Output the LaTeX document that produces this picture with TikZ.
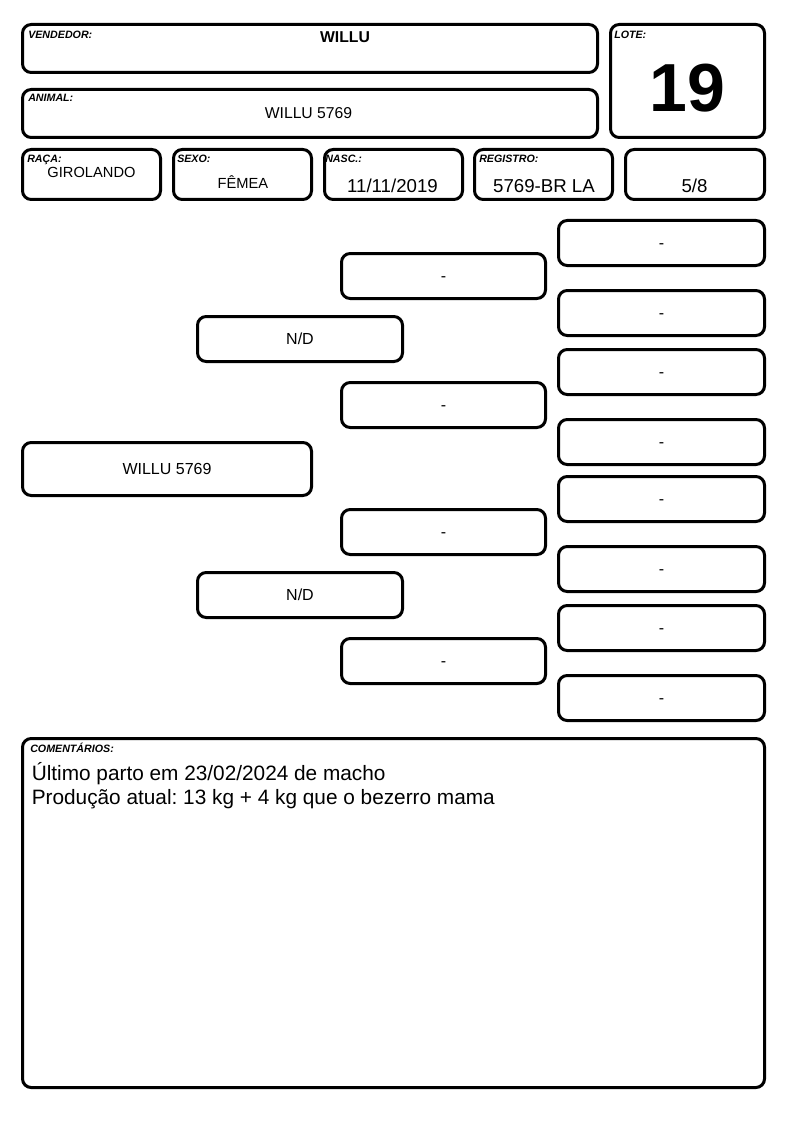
\documentclass[tikz,border=0pt]{standalone}
\usepackage{fontspec}
\setmainfont{Liberation Sans}
\frenchspacing
\newcommand\bx[7]{\node[box, minimum width={0.75pt*(#4-#2-3)}, minimum height={0.75pt*(#5-#3-3)}, font=#6] (#1) at ({(#2+#4)/2},{(#3+#5)/2}) {#7};}
\begin{document}
\begin{tikzpicture}[x=0.75pt,y=-0.75pt,
  box/.style={draw, line width=2.25pt, rounded corners=6.5pt, inner sep=0pt, text height=8.2pt, text depth=0pt},
  lbl/.style={font=\fontsize{8}{9}\selectfont\bfseries\itshape, anchor=base west, inner sep=0pt},
  val/.style={anchor=base, inner sep=0pt}]
\fill[white] (0,0) rectangle (794,1123);
\useasboundingbox (0,0) rectangle (794,1123);
% header
\bx{vend}{21}{23}{599}{74}{}{}
\bx{anim}{21}{88}{599}{139}{}{}
\bx{lote}{609}{23}{766}{139}{}{}
\node[lbl] (lvend) at (28,38.5) {VENDEDOR:};
\node[lbl] (lanim) at (28,102) {ANIMAL:};
\node[lbl] (llote) at (614,38.5) {LOTE:};
\node[val, font=\fontsize{11.8}{13}\selectfont\bfseries] (tvend) at (345,43) {WILLU};
\node[val, font=\fontsize{11.8}{13}\selectfont] (tanim) at (308.5,119) {WILLU 5769};
\node[val, font=\fontsize{51}{55}\selectfont\bfseries] (tlote) at (687.5,112) {19};
% row
\bx{raca}{21}{148}{162}{201}{}{}
\bx{sexo}{172}{148}{313}{201}{}{}
\bx{nasc}{323}{148}{464}{201}{}{}
\bx{reg}{473}{148}{614}{201}{}{}
\bx{frac}{624}{148}{766}{201}{}{}
\node[lbl] (lraca) at (27,163) {RAÇA:};
\node[lbl] (lsexo) at (177,163) {SEXO:};
\node[lbl] (lnasc) at (325,163) {NASC.:};
\node[lbl] (lreg) at (479,163) {REGISTRO:};
\node[val, font=\fontsize{11}{13}\selectfont] (traca) at (91.5,178) {GIROLANDO};
\node[val, font=\fontsize{11}{13}\selectfont] (tsexo) at (243,189) {FÊMEA};
\node[val, font=\fontsize{14}{16}\selectfont] (tnasc) at (392.5,193) {11/11/2019};
\node[val, font=\fontsize{14}{16}\selectfont] (treg) at (544,193) {5769-BR LA};
\node[val, font=\fontsize{14}{16}\selectfont] (tfrac) at (694.5,193) {5/8};
% pedigree
\def\pf{\fontsize{12}{14}\selectfont}
\bx{p0}{21}{441}{313}{497}{\pf}{WILLU 5769}
\bx{p1}{196}{315}{404}{363}{\pf}{N/D}
\bx{p2}{196}{571}{404}{619}{\pf}{N/D}
\bx{p3}{340}{252}{547}{300}{\pf}{-}
\bx{p4}{340}{381}{547}{429}{\pf}{-}
\bx{p5}{340}{508}{547}{556}{\pf}{-}
\bx{p6}{340}{637}{547}{685}{\pf}{-}
\bx{p7}{557}{219}{766}{267}{\pf}{-}
\bx{p8}{557}{289}{766}{337}{\pf}{-}
\bx{p9}{557}{348}{766}{396}{\pf}{-}
\bx{p10}{557}{418}{766}{466}{\pf}{-}
\bx{p11}{557}{475}{766}{523}{\pf}{-}
\bx{p12}{557}{545}{766}{593}{\pf}{-}
\bx{p13}{557}{604}{766}{652}{\pf}{-}
\bx{p14}{557}{674}{766}{722}{\pf}{-}
% comments
\bx{com}{21}{737}{766}{1089}{}{}
\node[lbl] (lcom) at (30,752) {COMENTÁRIOS:};
\node[anchor=base west, inner sep=0pt, font=\fontsize{15.6}{18}\selectfont] (c1) at (31.5,780) {Último parto em 23/02/2024 de macho};
\node[anchor=base west, inner sep=0pt, font=\fontsize{15.6}{18}\selectfont] (c2) at (31.5,804) {Produção atual: 13 kg + 4 kg que o bezerro mama};
\end{tikzpicture}
\end{document}
